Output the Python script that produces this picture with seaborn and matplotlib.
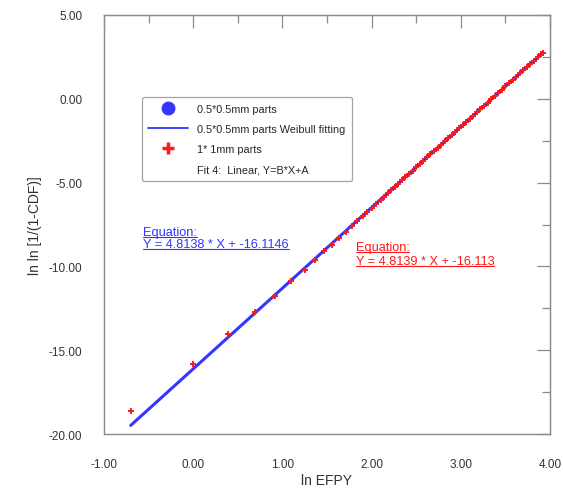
import matplotlib
matplotlib.use("Agg")
import matplotlib.pyplot as plt
from matplotlib.lines import Line2D
import seaborn as sns
import pandas as pd
import numpy as np

# fitted line for 0.5*0.5mm parts (Weibull fitting)
fit_x = [-0.70, 3.90]
fit_slope = 4.8138
fit_intercept = -16.1146

# 1*1mm parts
red_x = [-0.70, 0.00, 0.39, 0.69, 0.92, 1.10, 1.25, 1.37, 1.47, 1.56,
         1.64, 1.71, 1.78, 1.84, 1.90, 1.95, 2.00, 2.05, 2.10, 2.14,
         2.18, 2.22, 2.26, 2.30, 2.34, 2.38, 2.42, 2.46, 2.50, 2.54,
         2.58, 2.62, 2.66, 2.70, 2.74, 2.78, 2.82, 2.86, 2.90, 2.94,
         2.98, 3.02, 3.06, 3.10, 3.14, 3.18, 3.22, 3.26, 3.30, 3.34,
         3.38, 3.42, 3.46, 3.50, 3.54, 3.58, 3.62, 3.66, 3.70, 3.74,
         3.78, 3.82, 3.86, 3.90, 3.92]
red_y = [-18.63, -15.82, -14.03, -12.72, -11.77, -10.87, -10.20, -9.60, -9.10, -8.70,
         -8.30, -7.95, -7.60, -7.30, -7.02, -6.78, -6.53, -6.28, -6.04, -5.85,
         -5.65, -5.46, -5.26, -5.07, -4.87, -4.68, -4.48, -4.28, -4.08, -3.89,
         -3.69, -3.50, -3.31, -3.12, -2.92, -2.73, -2.54, -2.35, -2.15, -1.96,
         -1.77, -1.58, -1.38, -1.19, -1.00, -0.81, -0.61, -0.42, -0.23, -0.04,
         0.16, 0.35, 0.54, 0.74, 0.93, 1.12, 1.31, 1.51, 1.70, 1.89,
         2.08, 2.28, 2.47, 2.66, 2.76]

x_ticks = [-1, 0, 1, 2, 3, 4]
y_ticks = [-20, -15, -10, -5, 0, 5]

blue = "#3535ff"
red = "#ff1a1a"
gray = "#8c8c8c"

sns.set_style("white")
plt.rcParams['font.family'] = ['Liberation Sans', 'DejaVu Sans']

fig = plt.figure(figsize=(5.63, 4.89), dpi=100)
ax = fig.add_axes([0.1847, 0.1104, 0.7922, 0.8569])

fit_df = pd.DataFrame({"x": fit_x})
fit_df["y"] = fit_slope * fit_df["x"] + fit_intercept
red_df = pd.DataFrame({"x": red_x, "y": red_y})

sns.lineplot(x="x", y="y", data=fit_df, color=blue, linewidth=2.2, ax=ax)
sns.scatterplot(x="x", y="y", data=red_df, marker="+", color=red, s=15,
                linewidth=1.4, ax=ax, zorder=3)

ax.set_xlim(-1, 4)
ax.set_ylim(-20, 5)
ax.set_xticks(x_ticks)
ax.set_yticks(y_ticks)
ax.set_xticklabels(["%.2f" % v for v in x_ticks])
ax.set_yticklabels(["%.2f" % v for v in y_ticks])
ax.set_xticks(np.arange(-0.5, 4, 1.0), minor=True)
ax.set_yticks(np.arange(-17.5, 5, 5.0), minor=True)

for s in ax.spines.values():
    s.set_color(gray)
    s.set_linewidth(1.0)
ax.tick_params(which="major", direction="out", length=9.5, width=0.9,
               color=gray, labelsize=8.5, labelcolor="#333333")
ax.tick_params(which="minor", direction="out", length=5.5, width=0.9, color=gray)
ax.tick_params(axis="x", which="major", pad=8)
ax.tick_params(axis="y", which="major", pad=6)

# inward ticks on top and right
top = ax.secondary_xaxis("top")
top.set_xticks(x_ticks)
top.set_xticks(np.arange(-0.5, 4, 1.0), minor=True)
top.tick_params(which="major", direction="in", length=9.5, width=0.9, color=gray,
                labeltop=False)
top.tick_params(which="minor", direction="in", length=5.5, width=0.9, color=gray)
top.spines["top"].set_color(gray)
right = ax.secondary_yaxis("right")
right.set_yticks(y_ticks)
right.set_yticks(np.arange(-17.5, 5, 5.0), minor=True)
right.tick_params(which="major", direction="in", length=9.5, width=0.9, color=gray,
                  labelright=False)
right.tick_params(which="minor", direction="in", length=5.5, width=0.9, color=gray)
right.spines["right"].set_color(gray)

ax.set_xlabel("ln EFPY", fontsize=10, color="#333333", labelpad=2)
ax.set_ylabel("ln ln [1/(1-CDF)]", fontsize=10, color="#333333", labelpad=5)

handles = [
    Line2D([], [], marker="o", color=blue, linestyle="none", markersize=9),
    Line2D([], [], color=blue, linewidth=1.3),
    Line2D([], [], marker="+", color=red, linestyle="none", markersize=8, mew=2.5),
    Line2D([], [], linestyle="none"),
]
labels = ["0.5*0.5mm parts", "0.5*0.5mm parts Weibull fitting",
          "1* 1mm parts", "Fit 4:  Linear, Y=B*X+A"]
leg = ax.legend(handles, labels, loc="upper left", bbox_to_anchor=(0.085, 0.804),
                fontsize=7.8, handlelength=3.7, handletextpad=0.8,
                labelspacing=0.95, borderpad=0.6, frameon=True, fancybox=True,
                borderaxespad=0)
leg.get_frame().set_edgecolor(gray)
leg.get_frame().set_linewidth(0.9)

eq_texts = [
    (-0.56, -7.95, "Equation:", blue),
    (-0.56, -8.68, "Y = 4.8138 * X + -16.1146", blue),
    (1.82, -8.84, "Equation:", red),
    (1.82, -9.66, "Y = 4.8139 * X + -16.113", red),
]
txts = []
for x, y, t, c in eq_texts:
    txts.append(ax.text(x, y, t, color=c, fontsize=9.2, va="center", ha="left"))

# underline the equation texts
fig.canvas.draw()
inv = fig.transFigure.inverted()
for t in txts:
    bb = t.get_window_extent().transformed(inv)
    fig.add_artist(Line2D([bb.x0, bb.x1], [bb.y0 + 0.002, bb.y0 + 0.002],
                          color=t.get_color(), linewidth=0.8))

fig.savefig("out.png", dpi=100)
